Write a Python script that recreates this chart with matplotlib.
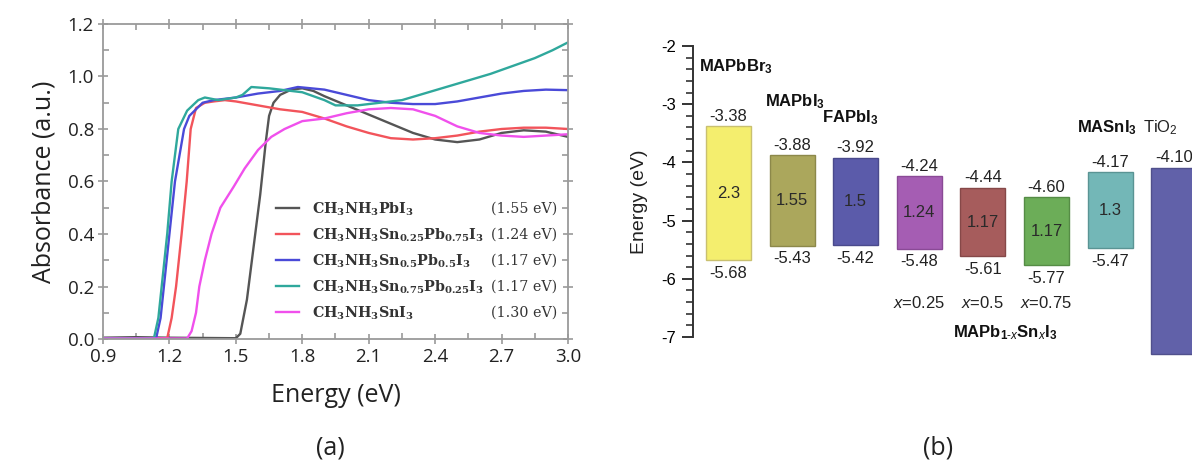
import numpy as np
import matplotlib
matplotlib.use("Agg")
import matplotlib.pyplot as plt
from matplotlib.ticker import MultipleLocator, FixedLocator

plt.rcParams["mathtext.fontset"] = "custom"
plt.rcParams["mathtext.rm"] = "Liberation Sans"
plt.rcParams["mathtext.bf"] = "Liberation Sans:bold"
plt.rcParams["mathtext.it"] = "Liberation Sans:italic"

# ---------------- (a) absorption spectra ----------------
e_pbi3 = [0.9, 1.05, 1.2, 1.5, 1.52, 1.55, 1.58, 1.61, 1.635, 1.65, 1.67, 1.7, 1.75, 1.8,
          1.85, 1.9, 2.0, 2.1, 2.2, 2.3, 2.4, 2.5, 2.6, 2.7, 2.8, 2.9, 3.0]
a_pbi3 = [0.005, 0.007, 0.005, 0.003, 0.02, 0.15, 0.35, 0.55, 0.75, 0.85, 0.9, 0.93, 0.95, 0.955,
          0.945, 0.925, 0.89, 0.855, 0.82, 0.785, 0.76, 0.75, 0.76, 0.785, 0.795, 0.79, 0.77]

e_sn25 = [0.9, 1.19, 1.21, 1.23, 1.255, 1.278, 1.296, 1.32, 1.36, 1.4, 1.45, 1.5, 1.6, 1.7, 1.8,
          1.9, 2.0, 2.1, 2.2, 2.3, 2.4, 2.5, 2.6, 2.7, 2.8, 2.9, 3.0]
a_sn25 = [0.003, 0.003, 0.08, 0.2, 0.4, 0.6, 0.8, 0.88, 0.9, 0.905, 0.91, 0.905, 0.89, 0.875, 0.865,
          0.84, 0.81, 0.785, 0.765, 0.76, 0.765, 0.775, 0.79, 0.80, 0.805, 0.805, 0.80]

e_sn50 = [0.9, 1.14, 1.16, 1.175, 1.2, 1.225, 1.266, 1.29, 1.35, 1.4, 1.5, 1.6, 1.7, 1.78, 1.9,
          2.0, 2.1, 2.2, 2.3, 2.4, 2.5, 2.6, 2.7, 2.8, 2.9, 3.0]
a_sn50 = [0.003, 0.003, 0.08, 0.2, 0.4, 0.6, 0.8, 0.85, 0.9, 0.91, 0.92, 0.935, 0.945, 0.96, 0.95,
          0.93, 0.91, 0.90, 0.895, 0.895, 0.905, 0.92, 0.935, 0.945, 0.95, 0.948]

e_sn75 = [0.9, 1.13, 1.15, 1.165, 1.19, 1.21, 1.24, 1.28, 1.33, 1.36, 1.42, 1.5, 1.53, 1.57, 1.65,
          1.75, 1.8, 1.9, 1.95, 2.05, 2.15, 2.25, 2.35, 2.45, 2.55, 2.65, 2.75, 2.85, 2.93, 3.0]
a_sn75 = [0.003, 0.003, 0.08, 0.2, 0.4, 0.6, 0.8, 0.87, 0.91, 0.92, 0.91, 0.92, 0.93, 0.96, 0.955,
          0.945, 0.94, 0.91, 0.89, 0.89, 0.90, 0.91, 0.935, 0.96, 0.985, 1.01, 1.04, 1.07, 1.10, 1.13]

e_sni3 = [0.9, 1.28, 1.3, 1.32, 1.335, 1.36, 1.39, 1.43, 1.49, 1.54, 1.6, 1.66, 1.72, 1.8, 1.9,
          2.0, 2.1, 2.2, 2.3, 2.4, 2.5, 2.6, 2.7, 2.8, 2.9, 3.0]
a_sni3 = [0.002, 0.002, 0.03, 0.1, 0.2, 0.3, 0.4, 0.5, 0.58, 0.65, 0.72, 0.77, 0.8, 0.83, 0.84,
          0.86, 0.875, 0.88, 0.875, 0.85, 0.81, 0.785, 0.775, 0.77, 0.775, 0.78]

series_labels = [r"$\mathbf{CH_3NH_3PbI_3}$",
                 r"$\mathbf{CH_3NH_3Sn_{0.25}Pb_{0.75}I_3}$",
                 r"$\mathbf{CH_3NH_3Sn_{0.5}Pb_{0.5}I_3}$",
                 r"$\mathbf{CH_3NH_3Sn_{0.75}Pb_{0.25}I_3}$",
                 r"$\mathbf{CH_3NH_3SnI_3}$"]
series_gaps = ["(1.55 eV)", "(1.24 eV)", "(1.17 eV)", "(1.17 eV)", "(1.30 eV)"]
series_colors = ["#555555", "#f2545b", "#4a4ad8", "#2fa89c", "#f050ec"]

# ---------------- (b) band alignment ----------------
materials = ["MAPbBr$_3$", "MAPbI$_3$", "FAPbI$_3$", "x=0.25", "x=0.5", "x=0.75", "MASnI$_3$", "TiO$_2$"]
cbm = [-3.38, -3.88, -3.92, -4.24, -4.44, -4.60, -4.17, -4.10]
vbm = [-5.68, -5.43, -5.42, -5.48, -5.61, -5.77, -5.47, -7.30]
gaps = ["2.3", "1.55", "1.5", "1.24", "1.17", "1.17", "1.3", ""]
cbm_text = ["-3.38", "-3.88", "-3.92", "-4.24", "-4.44", "-4.60", "-4.17", "-4.10"]
vbm_text = ["-5.68", "-5.43", "-5.42", "-5.48", "-5.61", "-5.77", "-5.47", ""]
bar_colors = ["#f4ee6e", "#aba75c", "#5b5baa", "#a55db3", "#a65c5c", "#6cad58", "#73b7b7", "#6161a9"]
edge_colors = ["#c9c070", "#8c884a", "#4a4a8c", "#8a4a96", "#864848", "#558c45", "#5a9494", "#50508c"]

W, H = 1192, 466
fig = plt.figure(figsize=(W / 100, H / 100), dpi=100)

# ---- panel (a)
ax1 = fig.add_axes([103 / W, 1 - 339 / H, 465 / W, 315 / H])
lines = []
for e, a, c in zip([e_pbi3, e_sn25, e_sn50, e_sn75, e_sni3],
                   [a_pbi3, a_sn25, a_sn50, a_sn75, a_sni3], series_colors):
    ln, = ax1.plot(e, a, color=c, lw=1.7, solid_joinstyle="round")
    lines.append(ln)
ax1.set_xlim(0.9, 3.0)
ax1.set_ylim(0.0, 1.2)
ax1.xaxis.set_major_locator(MultipleLocator(0.3))
ax1.xaxis.set_minor_locator(MultipleLocator(0.15))
ax1.yaxis.set_major_locator(MultipleLocator(0.2))
ax1.yaxis.set_minor_locator(MultipleLocator(0.1))
ax1.xaxis.set_major_formatter(plt.FormatStrFormatter("%.1f"))
ax1.yaxis.set_major_formatter(plt.FormatStrFormatter("%.1f"))
for sp in ax1.spines.values():
    sp.set_color("#9a9a9a")
    sp.set_linewidth(1.3)
ax1.tick_params(which="both", top=True, right=True, color="#9a9a9a", width=1.2)
ax1.tick_params(which="major", direction="inout", length=7, labelsize=13.5,
                labelcolor="#222222", pad=3)
ax1.tick_params(which="minor", direction="in", length=4)
for t in ax1.get_xticklabels() + ax1.get_yticklabels():
    t.set_family("Open Sans")
ax1.set_xlabel("Energy (eV)", family="Open Sans", fontsize=18, color="#222222", labelpad=12)
ax1.set_ylabel("Absorbance (a.u.)", family="Open Sans", fontsize=18, color="#222222", labelpad=8)

leg = ax1.legend(lines, series_labels, loc="upper left", bbox_to_anchor=(0.36, 0.458),
                 frameon=False, fontsize=10.3, handlelength=1.6, handletextpad=0.9,
                 labelspacing=0.6, borderaxespad=0)
for t in leg.get_texts():
    t.set_math_fontfamily("dejavuserif")
    t.set_color("#333333")

# band-gap values sit on the same rows as the legend entries
fig.canvas.draw()
renderer = fig.canvas.get_renderer()
for g, ln in zip(series_gaps, leg.get_lines()):
    bb = ln.get_window_extent(renderer)
    yc = (bb.y0 + bb.y1) / 2 / H
    fig.text(557 / W, yc, g, ha="right", va="center", family="DejaVu Serif",
             fontsize=10.3, color="#333333")

fig.text(330 / W, 1 - 448 / H, "(a)", ha="center", va="center", family="Open Sans",
         fontsize=18, color="#222222")

# ---- panel (b)
ax2 = fig.add_axes([693 / W, 1 - 363.2 / H, (W - 693) / W, 323 / H])
pos = np.arange(len(materials))
bw = 0.71
ax2.bar(pos, np.array(cbm) - np.array(vbm), bottom=vbm, width=bw, color=bar_colors,
        edgecolor=edge_colors, linewidth=1.0, clip_on=True)
ax2.set_xlim(-0.558, 7.288)
ax2.set_ylim(-7.45, -1.9)
for p, c, v, g, ct, vt in zip(pos, cbm, vbm, gaps, cbm_text, vbm_text):
    ax2.annotate(ct, (p, c), xytext=(0, 2), textcoords="offset points", ha="center",
                 va="bottom", fontsize=12, family="Liberation Sans", color="#222222")
    if vt:
        ax2.annotate(vt, (p, v), xytext=(0, -4), textcoords="offset points", ha="center",
                     va="top", fontsize=12, family="Liberation Sans", color="#222222")
    if g:
        ax2.text(p, (c + v) / 2, g, ha="center", va="center", fontsize=12,
                 family="Liberation Sans", color="#2a2a2a")

name_style = dict(fontsize=12, family="Liberation Sans", color="#111111", ha="center",
                  va="center")
ax2.text(0.12, -2.36, r"$\mathbf{MAPbBr_3}$", **name_style)
ax2.text(1.04, -2.95, r"$\mathbf{MAPbI_3}$", **name_style)
ax2.text(1.92, -3.23, r"$\mathbf{FAPbI_3}$", **name_style)
ax2.text(5.95, -3.41, r"$\mathbf{MASnI_3}$", **name_style)
ax2.text(6.79, -3.41, r"TiO$_2$", fontsize=12, family="Liberation Sans", color="#222222",
         ha="center", va="center")
for p, lab in zip([3, 4, 5], ["0.25", "0.5", "0.75"]):
    ax2.text(p, -6.42, r"$\mathit{x}$=" + lab, ha="center", va="center", fontsize=12,
             family="Liberation Sans", color="#222222")
ax2.text(4.35, -6.92, r"$\mathbf{MAPb_{1\text{-}\mathit{x}}Sn_{\mathit{x}}I_3}$", **name_style)

for k in ["top", "right", "bottom"]:
    ax2.spines[k].set_visible(False)
ax2.spines["left"].set_bounds(-7, -2)
ax2.spines["left"].set_color("#333333")
ax2.spines["left"].set_linewidth(1.4)
ax2.set_xticks([])
ax2.set_yticks([-7, -6, -5, -4, -3, -2])
minor_pos = [v for v in np.round(np.arange(-7.0, -1.99, 0.2), 1) if abs(v - round(v)) > 1e-6]
ax2.yaxis.set_minor_locator(FixedLocator(minor_pos))
ax2.yaxis.set_major_formatter(plt.FormatStrFormatter("%d"))
ax2.tick_params(axis="y", which="major", direction="out", length=8, width=1.4,
                color="#333333", labelsize=12, pad=4)
ax2.tick_params(axis="y", which="minor", direction="out", length=5, width=1.2, color="#333333")
for t in ax2.get_yticklabels():
    t.set_family("Liberation Sans")
ax2.set_ylabel("Energy (eV)", family="Liberation Sans", fontsize=14, color="#222222",
               labelpad=10)

fig.text(938 / W, 1 - 448 / H, "(b)", ha="center", va="center", family="Open Sans",
         fontsize=18, color="#222222")

fig.savefig("out.png", dpi=100)
